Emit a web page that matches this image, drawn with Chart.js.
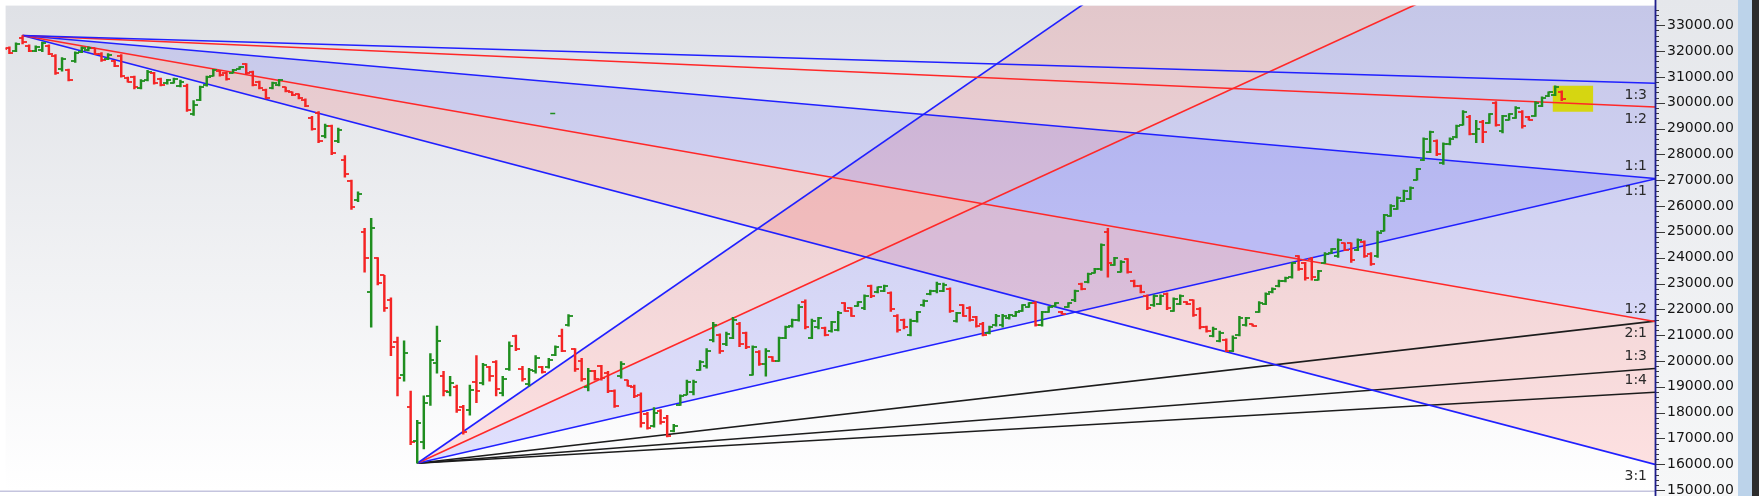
<!DOCTYPE html>
<html><head><meta charset="utf-8">
<script src="https://cdn.jsdelivr.net/npm/chart.js@4.4.1/dist/chart.umd.min.js"></script>
<style>html,body{margin:0;padding:0;background:#fff;overflow:hidden}#wrap{width:1759px;height:496px}</style>
</head><body><div id="wrap"><canvas id="c" width="1759" height="496"></canvas></div>
<script>
// ---------------- DATA ----------------
const opens = [
32260,32180,32120,32000,32520,32200,32000,32050,32200,31800,
31300,31250,31600,31980,32040,32100,31900,31700,31600,31800,
30960,31000,30560,30880,31150,30920,30750,30780,30650,30650,
29550,30100,30700,31050,31220,31150,31160,31300,31480,31180,
30800,30500,30560,30680,30600,30400,30320,30120,29400,29600,
28700,29100,28500,27800,26950,26250,25000,22680,23970,23320,
22370,20740,19450,18200,16900,16870,18650,19910,19410,18800,
19000,18200,18090,19200,19150,19750,19950,18750,19700,20950,
19700,19100,19600,19750,19750,20250,20970,21400,20450,20000,
19000,19600,19800,19550,18850,19400,19250,19000,18700,17950,
17500,18050,17800,17280,18300,18700,18800,19650,19800,20800,
21000,20650,20900,21450,21100,
19450,20350,19900,20150,20000,20900,21350,21600,22300,
20900,21300,21280,21150,21200,22230,22050,22130,22050,22900,
22660,22700,22650,21750,21600,21000,21550,22150,22580,22700,
22700,22800,21550,22150,22050,21700,21450,21080,21400,21400,
21650,21760,21950,22100,22250,21400,21900,22130,21900,22100,
22350,23000,23050,23420,23550,25000,23720,23460,
23950,23100,
22920,22500,22150,22200,
22600,21950,22200,22280,22350,22000,21330,20950,20780,20830,20400,21000,21400,21420,21900,22200,22660,22900,23080,23250,24050,
23800,23950,23150,23800,24180,24050,24560,
24550,24300,24600,24150,
24050,25050,25620,25900,26200,26280,27020,27800,28100,28500,27650,28400,28660,
29150,29450,28800,29250,29220,30000,28900,
29350,29420,
29650,29450,29500,29880,30250,30300,30400];
const highs = [
32280,32200,32160,32320,32600,32240,32200,32350,32240,31860,
31750,31300,31970,32160,32160,32120,31940,31900,31640,31860,
30990,31030,30900,31250,31180,30950,30910,30950,30880,30720,
30080,30640,31030,31290,31250,31180,31290,31400,31520,31220,
30840,30530,30800,30910,30610,30420,30340,30150,29470,29660,
29170,29130,29020,27950,27000,26550,25140,25520,24000,23320,
22450,20930,20780,18840,17700,18650,20290,21350,19600,19410,
19070,18280,19070,20210,19910,19790,20020,19410,20740,21000,
19790,19720,20210,19790,20100,20590,21240,21800,20480,20100,
19720,19640,19830,19600,18880,19980,19260,19070,18770,18010,
18200,18120,17900,17550,18690,19260,19260,20020,20480,21500,
21050,21120,21690,21500,21120,
20590,20400,20480,20170,20930,21350,21620,22180,22370,
21620,21690,21310,21540,21920,22260,22070,22300,22560,22940,
22870,22940,22680,21800,21620,21620,21920,22370,22750,23060,
23020,22830,21880,22180,22110,21730,21500,21350,21810,21810,
21810,21920,22180,22260,22300,21920,22110,22260,21920,22260,
22750,23020,23400,23590,24540,25140,24010,23890,
23970,23130,
22940,22560,22560,22560,
22640,22450,22560,22300,22370,22070,21350,21310,21160,20860,20970,21730,21690,21430,22300,22640,22830,23130,23250,23820,24080,
23820,24010,23510,24200,24350,24730,24580,
24580,24730,24650,24200,
25030,25680,26060,26360,26620,26740,27460,28640,28900,28560,28450,28640,29130,
29700,29510,29320,29320,29580,30040,29510,
29580,29850,
29700,29470,30040,30230,30420,30650,30460];
const lows = [
32130,32050,31900,31980,32280,31980,31980,31980,31860,31100,
31220,30840,31560,31940,32010,31860,31600,31670,31400,30990,
30800,30530,30530,30840,30720,30650,30720,30760,30610,29660,
29510,30080,30640,31030,31030,30870,31140,31290,31100,30650,
30530,30150,30530,30650,30420,30270,30150,29850,28940,28450,
28640,27990,28450,27120,25870,26170,23440,21310,22950,21920,
20210,18650,19220,16760,16040,16600,18280,19530,18650,18650,
18010,17170,17900,18390,19070,19220,18650,18650,19640,20400,
19220,19030,19530,19530,19720,20210,20360,21350,19600,19220,
18840,19260,19260,18770,18200,19340,19030,18580,17440,17360,
17440,17550,17060,17250,18280,18690,18690,19640,19720,20740,
20290,20590,20860,20550,20480,
19450,19830,19410,19980,19980,20860,21310,21540,21240,
20860,21240,20970,21120,21160,21920,21730,22110,21990,22450,
22640,22680,21920,21120,21240,20970,21500,22110,22560,22640,
22680,21880,21500,21730,21540,21310,20970,21050,21350,21310,
21620,21730,21920,22070,21350,21350,21880,22110,21810,22070,
22300,22750,23020,23400,23510,23250,23700,23440,
23400,22870,
22640,21990,22110,22180,
21990,21920,22180,22180,21730,21240,21120,20930,20740,20360,20360,20970,21350,21350,21880,22180,22640,22870,23060,23210,23510,
23130,23130,23130,23780,24160,24010,24270,
23820,24270,24010,23700,
24010,25030,25600,25870,26170,26250,27000,27760,28070,27950,27610,28370,28640,
29130,28750,28450,28450,29200,29090,28830,
29320,29390,
29010,29320,29470,29850,30230,30270,30080];
const closes = [
32150,32080,31920,32280,32350,32020,32150,32300,31900,31150,
31700,30880,31920,32120,32130,31900,31650,31860,31420,31050,
30820,30600,30850,31200,30760,30680,30880,30920,30800,29700,
29900,30600,30980,31250,31060,30900,31270,31390,31150,30700,
30560,30200,30760,30880,30440,30290,30170,29870,29000,28500,
29100,28050,28950,27250,25950,26480,24000,25140,23020,22070,
20550,19340,20300,16870,17600,18390,20020,20780,18840,19150,
18100,17250,18880,18850,19830,19400,18900,19300,20600,20450,
19300,19650,20100,19580,20050,20550,20400,21750,19700,19300,
19600,19300,19350,18850,18250,19900,19050,18650,17600,17400,
18000,17650,17100,17500,18650,19200,19200,19980,20400,21400,
20400,21050,21600,20650,20550,
20550,19900,20400,20000,20900,21300,21580,22100,21300,
21550,21650,21000,21500,21850,21950,21760,22280,22500,22500,
22850,22900,22000,21200,21300,21550,21880,22330,22720,23000,
22950,21950,21850,21760,21600,21350,21000,21300,21750,21750,
21780,21900,22150,22230,21400,21880,22080,22240,21820,22230,
22700,22780,23350,23560,24500,23800,23980,23850,
23450,22900,
22660,22050,22500,22520,
22050,22400,22520,22200,21800,21300,21150,21250,21100,20400,20900,21650,21650,21360,22250,22600,22800,23100,23230,23780,23550,
23200,23250,23480,24150,24330,24700,24300,
23900,24700,24050,23750,
24950,25650,26000,26300,26580,26700,27420,28600,28850,28000,28400,28600,29100,
29650,28800,29000,28850,29550,29150,29480,
29550,29800,
29100,29350,30000,30200,30400,30600,30150];

// price axis labels
const priceTicks = [15000,16000,17000,18000,19000,20000,21000,22000,23000,24000,
  25000,26000,27000,28000,29000,30000,31000,32000,33000];

// visible range of the chart (bar numbers / price)
const barMin = 1.42, barMax = 252.18;
const priceMin = 14990, priceMax = 33760;
const minorStep = 200;

// Gann fans (origin bar, origin price, points per bar for 1x1)
const topFanOrigin = {bar: 4, price: 32600};
const topFanPointsPerBar = 22.3;
const topFanRatios = [1/3, 1/2, 1, 2, 3];
const topFanLabels = ['1:3', '1:2', '1:1', '1:2', '3:1'];
const bottomFanOrigin = {bar: 64, price: 16040};
const bottomFanPointsPerBar = 58.5;
const bottomFanRatios = [3, 2, 1, 1/2, 1/3, 1/4];
const bottomFanLabels = ['', '', '1:1', '2:1', '1:3', '1:4'];

// highlight box (bars, prices)
const highlightBars = [236.6, 242.8];
const highlightPrices = [29650, 30660];

// small stray marker seen in the chart (bar, price)
const strayMarkBars = [84.6];
const strayMarkPrices = [29580];

// ---------------- STYLE ----------------
const BLUE = '#2020ff', RED = '#ff2828', BLACK = '#1c1c1c';
const UP = '#1f8e1f', DOWN = '#f42424';
const FILL_BLUE = 'rgba(0,0,255,0.115)', FILL_PINK = 'rgba(255,0,0,0.115)';
const topFanColors = [BLUE, RED, BLUE, RED, BLUE];
const bottomFanColors = [BLUE, RED, BLUE, BLACK, BLACK, BLACK];
const topFanFills = [null, null, FILL_BLUE, FILL_PINK, null];
const bottomFanFills = [FILL_PINK, FILL_BLUE, null, null, null, null];
const topFanLabelSide = [1, 1, -1, -1, 1];
const bottomFanLabelSide = [0, 0, 1, 1, -1, -1];

function tickCanvas(color, side) {
  const c = document.createElement('canvas');
  c.width = 8; c.height = 2;
  const g = c.getContext('2d');
  g.fillStyle = color;
  g.fillRect(side < 0 ? 0 : 4, 0.1, 4, 1.8);
  return c;
}
const openUp = tickCanvas(UP, -1), openDown = tickCanvas(DOWN, -1);
const closeUp = tickCanvas(UP, 1), closeDown = tickCanvas(DOWN, 1);

const idx = opens.map((_, i) => i);
const isUp = idx.map(i => closes[i] >= opens[i]);

const datasets = [];
datasets.push({type: 'bar', data: idx.map(i => ({x: i, y: [lows[i], highs[i]]})),
  backgroundColor: idx.map(i => isUp[i] ? UP : DOWN), borderWidth: 0, barThickness: 1.8, order: 0});
datasets.push({type: 'scatter', data: idx.map(i => ({x: i, y: opens[i]})),
  pointStyle: idx.map(i => isUp[i] ? openUp : openDown), pointRadius: 3, order: 0});
datasets.push({type: 'scatter', data: idx.map(i => ({x: i, y: closes[i]})),
  pointStyle: idx.map(i => isUp[i] ? closeUp : closeDown), pointRadius: 3, order: 0});
datasets.push({type: 'scatter', data: strayMarkBars.map((b, i) => ({x: b, y: strayMarkPrices[i]})),
  pointStyle: 'line', pointRadius: 2.5, borderColor: UP, borderWidth: 1.6, order: 0});
datasets.push({type: 'line', data: [{x: highlightBars[0], y: highlightPrices[1]}, {x: highlightBars[1], y: highlightPrices[1]}],
  borderWidth: 0, borderColor: 'rgba(0,0,0,0)', pointRadius: 0, fill: '+1', backgroundColor: 'rgba(214,214,0,0.93)', order: 1});
datasets.push({type: 'line', data: [{x: highlightBars[0], y: highlightPrices[0]}, {x: highlightBars[1], y: highlightPrices[0]}],
  borderWidth: 0, borderColor: 'rgba(0,0,0,0)', pointRadius: 0, fill: false, order: 1});

const fanLabelItems = [];
function addFan(origin, ppb, dir, ratios, colors, fills, labels, sides) {
  ratios.forEach((r, k) => {
    const endPrice = origin.price + dir * ppb * r * (barMax - origin.bar);
    datasets.push({type: 'line', data: [{x: origin.bar, y: origin.price}, {x: barMax, y: endPrice}],
      borderColor: colors[k], borderWidth: 1.6, pointRadius: 0, tension: 0,
      fill: fills[k] ? '+1' : false, backgroundColor: fills[k] || 'rgba(0,0,0,0)', order: 2});
    if (labels[k]) fanLabelItems.push({text: labels[k], price: endPrice, side: sides[k]});
  });
}
addFan(topFanOrigin, topFanPointsPerBar, -1, topFanRatios, topFanColors, topFanFills, topFanLabels, topFanLabelSide);
addFan(bottomFanOrigin, bottomFanPointsPerBar, 1, bottomFanRatios, bottomFanColors, bottomFanFills, bottomFanLabels, bottomFanLabelSide);

const decor = {
  id: 'decor',
  beforeDraw(chart) {
    const {ctx, chartArea: a, width, height} = chart;
    const ys = chart.scales.y;
    ctx.save();
    const g = ctx.createLinearGradient(0, a.top, 0, a.bottom);
    g.addColorStop(0, '#dfe1e6'); g.addColorStop(1, '#ffffff');
    ctx.fillStyle = g; ctx.fillRect(a.left, a.top, a.right - a.left, a.bottom - a.top);
    ctx.fillStyle = '#ffffff'; ctx.fillRect(0, a.bottom, a.right, height - a.bottom);
    const g2 = ctx.createLinearGradient(0, 0, 0, height);
    g2.addColorStop(0, '#e5e7eb'); g2.addColorStop(1, '#f6f7f8');
    ctx.fillStyle = g2; ctx.fillRect(ys.left, 0, ys.right - ys.left, height);
    ctx.fillStyle = '#bcd3ea'; ctx.fillRect(ys.right, 0, 14, height);
    ctx.fillStyle = '#2c2c2c'; ctx.fillRect(ys.right + 14, 0, width - ys.right - 14, height);
    ctx.restore();
  },
  afterDatasetsDraw(chart) {
    const {ctx, chartArea: a, height} = chart;
    const ys = chart.scales.y;
    ctx.save();
    ctx.strokeStyle = '#c4c4de'; ctx.lineWidth = 1.5;
    ctx.beginPath(); ctx.moveTo(0, a.bottom + 0.75); ctx.lineTo(a.right, a.bottom + 0.75); ctx.stroke();
    ctx.strokeStyle = '#3a3a3a'; ctx.lineWidth = 1;
    for (let v = Math.ceil(priceMin / minorStep) * minorStep; v <= priceMax; v += minorStep) {
      const y = Math.round(ys.getPixelForValue(v)) + 0.5;
      const len = v % 1000 === 0 ? 10 : 4;
      ctx.beginPath(); ctx.moveTo(ys.left, y); ctx.lineTo(ys.left + len, y); ctx.stroke();
    }
    ctx.strokeStyle = '#1e1e8c'; ctx.lineWidth = 1.8;
    ctx.beginPath(); ctx.moveTo(ys.left + 0.5, 0); ctx.lineTo(ys.left + 0.5, height); ctx.stroke();
    ctx.fillStyle = '#2a2a2a';
    ctx.font = '14px "DejaVu Sans"';
    ctx.textAlign = 'right'; ctx.textBaseline = 'middle';
    fanLabelItems.forEach(l => {
      const y = ys.getPixelForValue(l.price) + l.side * 12;
      ctx.fillText(l.text, a.right - 8, y);
    });
    ctx.restore();
  }
};

new Chart(document.getElementById('c'), {
  type: 'scatter',
  data: {datasets},
  options: {
    responsive: false, animation: false, devicePixelRatio: 1, events: [],
    layout: {padding: {left: 0, top: 0, right: 21, bottom: 2}},
    plugins: {legend: {display: false}, tooltip: {enabled: false},
      filler: {drawTime: 'beforeDatasetsDraw', propagate: false}},
    scales: {
      x: {type: 'linear', min: barMin, max: barMax, display: false, offset: false},
      y: {type: 'linear', position: 'right', min: priceMin, max: priceMax,
        grid: {display: false, drawTicks: false}, border: {display: false},
        ticks: {autoSkip: false, padding: 12,
          color: '#151515', font: {family: 'DejaVu Sans', size: 14},
          callback: v => Number(v).toFixed(2)},
        afterBuildTicks(s) { s.ticks = priceTicks.map(v => ({value: v})); },
        afterFit(s) { s.width = 83; s.paddingTop = 0; s.paddingBottom = 0; }
      }
    }
  },
  plugins: [decor]
});
</script>
</body></html>
